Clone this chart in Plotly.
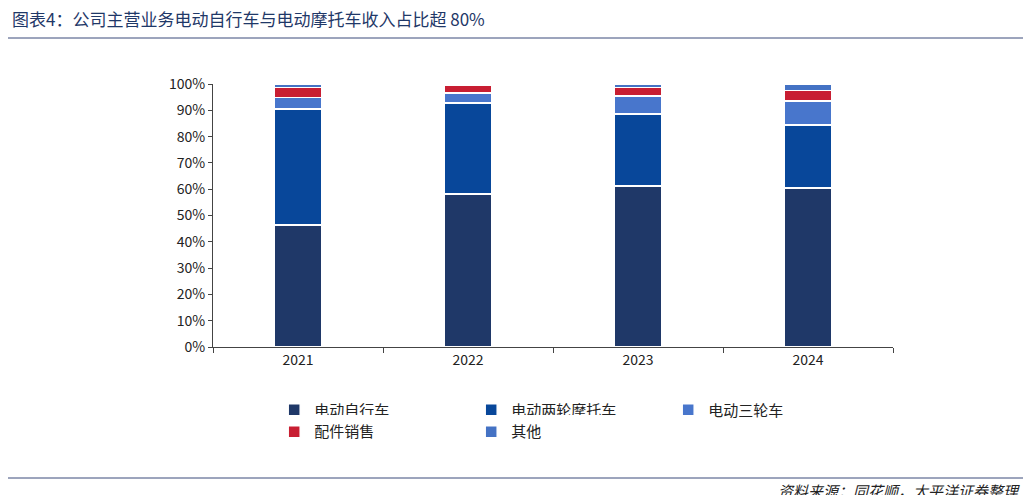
import plotly.graph_objects as go

years = ["2021", "2022", "2023", "2024"]
bike = [46.4, 58.2, 61.2, 60.5]
moto = [44.1, 34.6, 27.4, 23.9]
tri = [4.3, 3.8, 6.8, 9.1]
parts = [3.8, 2.8, 3.2, 4.0]
other = [1.4, 0.6, 1.4, 2.5]

series = [
    ("电动自行车", bike, "#1f3868", "legend"),
    ("电动两轮摩托车", moto, "#08479a", "legend"),
    ("电动三轮车", tri, "#4876cc", "legend"),
    ("配件销售", parts, "#c81e32", "legend2"),
    ("其他", other, "#4472c4", "legend2"),
]

fig = go.Figure()
for name, vals, color, lg in series:
    fig.add_trace(go.Bar(x=years, y=vals, name=name, marker_color=color,
                         marker_line=dict(color="white", width=1.5),
                         width=0.28, legend=lg))

font = "Noto Sans CJK SC"
fig.update_layout(
    barmode="stack",
    width=1015, height=487,
    margin=dict(l=205, r=130, t=76, b=148),
    plot_bgcolor="white", paper_bgcolor="white",
    font=dict(family=font, size=14, color="#222"),
    legend=dict(orientation="h", x=0.09, y=-0.177, xanchor="left", yanchor="top",
                entrywidth=152, entrywidthmode="pixels", traceorder="normal",
                font=dict(size=15), itemwidth=30),
    legend2=dict(orientation="h", x=0.09, y=-0.26, xanchor="left", yanchor="top",
                 entrywidth=152, entrywidthmode="pixels", traceorder="normal",
                 font=dict(size=15), itemwidth=30),
    yaxis=dict(range=[0, 100], dtick=10, ticksuffix="%", showgrid=False,
               showline=True, linecolor="#444", ticks="outside", ticklen=4,
               tickcolor="#444", tickfont=dict(size=14)),
    xaxis=dict(showline=True, linecolor="#444", ticks="outside", ticklen=5,
               tickson="boundaries", tickcolor="#444", tickfont=dict(size=14)),
    shapes=[
        dict(type="line", xref="paper", yref="paper", x0=-205/680, x1=1+130/680,
             y0=1+46/263, y1=1+46/263, line=dict(color="#3a4a7a", width=1)),
        dict(type="line", xref="paper", yref="paper", x0=-205/680, x1=1+130/680,
             y0=-131/263, y1=-131/263, line=dict(color="#3a4a7a", width=1)),
    ],
    annotations=[
        dict(text="图表4：公司主营业务电动自行车与电动摩托车收入占比超 80%", xref="paper", yref="paper",
             x=-203/680, y=1+66/263, xanchor="left", yanchor="middle", showarrow=False,
             font=dict(size=17, color="#1f3868")),
        dict(text="<i>资料来源：同花顺，太平洋证券整理</i>", xref="paper", yref="paper",
             x=1+129/680, y=-143/263, xanchor="right", yanchor="middle", showarrow=False,
             font=dict(size=15, color="#222")),
    ],
)

fig.write_html("out.html")
